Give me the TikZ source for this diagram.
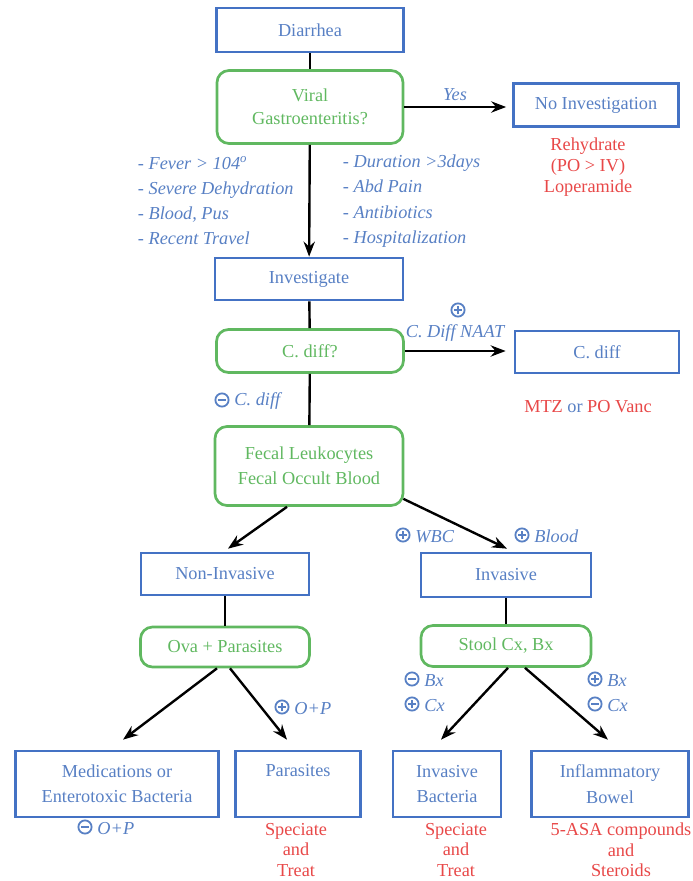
\documentclass[tikz,border=0pt]{standalone}
\usepackage{fontspec}
\setmainfont{Liberation Serif}
\usetikzlibrary{arrows.meta,calc}
\definecolor{boxblue}{RGB}{68,114,196}
\definecolor{txtblue}{RGB}{88,128,196}
\definecolor{boxgreen}{RGB}{96,184,96}
\definecolor{txtred}{RGB}{232,72,72}
\tikzset{>=Stealth,every node/.style={font=\fontsize{13}{16}\selectfont},
 bbox/.style 2 args={draw=boxblue,line width=1.9pt,text=txtblue,align=center,minimum width=#1*0.025cm,minimum height=#2*0.025cm},
 gbox/.style 2 args={draw=boxgreen,line width=1.9pt,rounded corners=0.3cm,text=boxgreen,align=center,minimum width=#1*0.025cm,minimum height=#2*0.025cm},
 flow/.style={line width=1.7pt,->},edge/.style={line width=1.7pt},
 note/.style={text=txtblue,font=\itshape\fontsize{13}{18}\selectfont},
 rx/.style={text=txtred,align=center,font=\fontsize{13}{15}\selectfont},
 sgn/.style={circle,draw=txtblue,line width=1.3pt,inner sep=0pt,minimum size=0.33cm},
 psign/.style={sgn,path picture={\draw[txtblue,line width=1.3pt] ([xshift=-0.1cm]path picture bounding box.center)--([xshift=0.1cm]path picture bounding box.center) ([yshift=-0.1cm]path picture bounding box.center)--([yshift=0.1cm]path picture bounding box.center);}},
 msign/.style={sgn,path picture={\draw[txtblue,line width=1.3pt] ([xshift=-0.1cm]path picture bounding box.center)--([xshift=0.1cm]path picture bounding box.center);}}}

\begin{document}
\begin{tikzpicture}[x=0.025cm,y=-0.025cm]
\useasboundingbox (0,0) rectangle (692,881);
\node[bbox={187}{44}] (diar) at (310,30) {Diarrhea};
\node[gbox={186}{73}] (viral) at (310,107) {Viral\\Gastroenteritis?};
\node[bbox={165}{43}] (noinv) at (596,105) {No Investigation};
\node[rx] (rehyd) at (588,167) {Rehydrate\\(PO > IV)\\Loperamide};
\node[note,align=left,anchor=west] (crita) at (133,201) {- Fever > 104\textsuperscript{o}\\- Severe Dehydration\\- Blood, Pus\\- Recent Travel};
\node[note,align=left,anchor=west] (critb) at (338,201) {- Duration >3days\\- Abd Pain\\- Antibiotics\\- Hospitalization};
\node[bbox={188}{42}] (invest) at (309,279) {Investigate};
\node[gbox={187}{43}] (cdq) at (310,351) {C. diff?};
\node[bbox={164}{42}] (cdiff) at (597,352) {C. diff};
\node[rx] (mtz) at (588,407) {MTZ \textcolor{txtblue}{or} PO Vanc};
\node[gbox={188}{79},font=\fontsize{13}{18}\selectfont] (fecal) at (309,466) {Fecal Leukocytes\\Fecal Occult Blood};
\node[bbox={168}{42}] (noninv) at (225,574) {Non-Invasive};
\node[gbox={169}{40}] (ova) at (225,647) {Ova + Parasites};
\node[bbox={170}{44}] (inv) at (506,575) {Invasive};
\node[gbox={170}{41}] (stool) at (506,646) {Stool Cx, Bx};
\node[bbox={203}{66},font=\fontsize{13}{18}\selectfont] (meds) at (117,784) {Medications or\\Enterotoxic Bacteria};
\node[bbox={125}{66},font=\fontsize{13}{18}\selectfont] (paras) at (298,784) {\strut Parasites\\\strut};
\node[bbox={108}{66},font=\fontsize{13}{18}\selectfont] (invbac) at (447,784) {Invasive\\Bacteria};
\node[bbox={157}{66},font=\fontsize{13}{18}\selectfont] (ibd) at (610,784) {Inflammatory\\Bowel};
\node[rx,font=\fontsize{13}{14.5}\selectfont] (treatA) at (296,850) {Speciate\\and\\Treat};
\node[rx,font=\fontsize{13}{14.5}\selectfont] (treatB) at (456,850) {Speciate\\and\\Treat};
\node[rx,font=\fontsize{13}{14.5}\selectfont] (asa) at (621,850) {5-ASA compounds\\and\\Steroids};
% edge labels
\node[note] (yes) at (455,95) {Yes};
\node[psign] (pnaat) at (458,310) {};\node[note] (naat) at (455,333) {C. Diff NAAT};
\node[msign] (mcd) at (222,400) {};\node[note,anchor=west,yshift=-1pt] (cdneg) at (mcd.east) {C. diff};
\node[psign] (pwbc) at (403,535) {};\node[note,anchor=west,yshift=-1pt] (wbc) at (pwbc.east) {WBC};
\node[psign] (pblood) at (522,535) {};\node[note,anchor=west,yshift=-1pt] (blood) at (pblood.east) {Blood};
\node[psign] (pop) at (282,707) {};\node[note,anchor=west,yshift=-1pt] (opos) at (pop.east) {O+P};
\node[msign] (mop) at (85,827) {};\node[note,anchor=west,yshift=-1pt] (oneg) at (mop.east) {O+P};
\node[msign] (mbx) at (412,679) {};\node[note,anchor=west,yshift=-1pt] (bxneg) at (mbx.east) {Bx};
\node[psign] (pcx) at (412,704) {};\node[note,anchor=west,yshift=-1pt] (cxpos) at (pcx.east) {Cx};
\node[psign] (pbx) at (595,679) {};\node[note,anchor=west,yshift=-1pt] (bxpos) at (pbx.east) {Bx};
\node[msign] (mcx) at (595,704) {};\node[note,anchor=west,yshift=-1pt] (cxneg) at (mcx.east) {Cx};
% connectors
\draw[edge] (diar) -- (viral);
\draw[flow,shorten >=0.15cm] (viral.east) -- (viral.east -| noinv.west);
\draw[flow] (viral) -- (invest);
\draw[edge] (invest) -- (cdq);
\draw[flow,shorten >=0.2cm] (cdq.east) -- (cdq.east -| cdiff.west);
\draw[edge] (cdq) -- (fecal);
\draw[flow] ($(fecal.south)+(-22,0)$) -- ($(noninv.north)+(3,-3)$);
\draw[flow] ($(fecal.south east)+(-1,-8)$) -- ($(inv.north)+(1,-3)$);
\draw[edge] (noninv) -- (ova);\draw[edge] (inv) -- (stool);
\draw[flow] ($(ova.south)+(-8,0)$) -- ($(meds.north)+(6,-10)$);
\draw[flow] ($(ova.south)+(5,0)$) -- ($(paras.north)+(-11,-10)$);
\draw[flow] ($(stool.south)+(2,0)$) -- ($(invbac.north)+(-6,-10)$);
\draw[flow] ($(stool.south)+(19,0)$) -- ($(ibd.north)+(-2,-10)$);
\end{tikzpicture}
\end{document}
